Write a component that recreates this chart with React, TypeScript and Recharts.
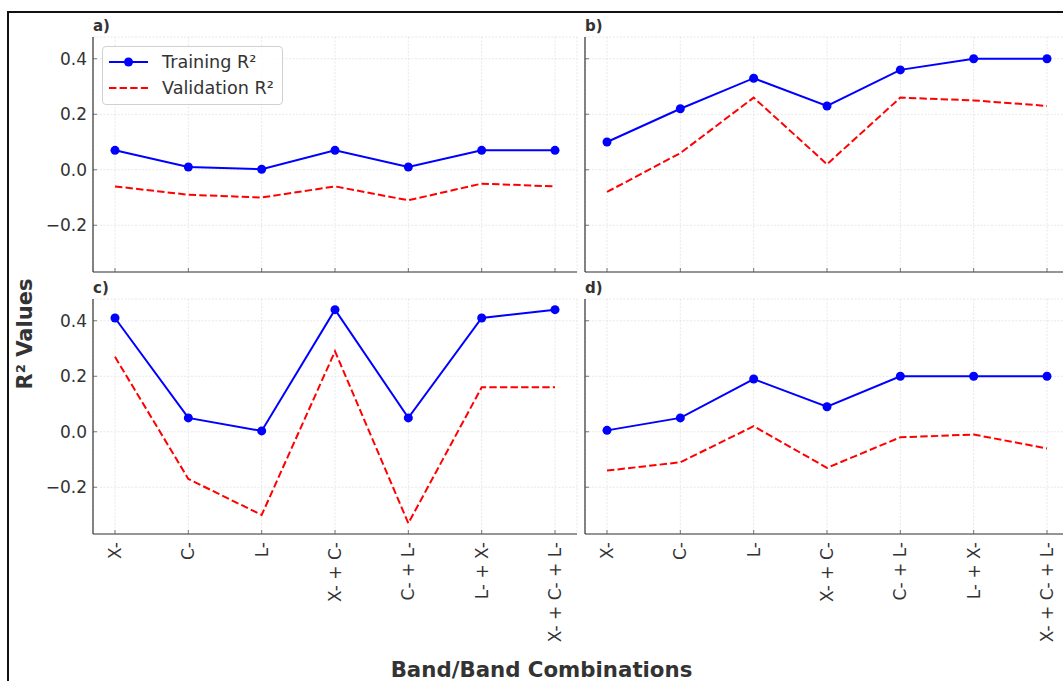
import { LineChart, Line, XAxis, YAxis, CartesianGrid, Legend } from "recharts";

const categories = ["X-", "C-", "L-", "X- + C-", "C- + L-", "L- + X-", "X- + C- + L-"];
const yTicks = [-0.2, 0, 0.2, 0.4];

const trainA = [0.07, 0.01, 0.002, 0.07, 0.01, 0.07, 0.07];
const validA = [-0.06, -0.09, -0.1, -0.06, -0.11, -0.05, -0.06];
const trainB = [0.1, 0.22, 0.33, 0.23, 0.36, 0.4, 0.4];
const validB = [-0.08, 0.06, 0.26, 0.02, 0.26, 0.25, 0.23];
const trainC = [0.41, 0.05, 0.003, 0.44, 0.05, 0.41, 0.44];
const validC = [0.27, -0.17, -0.3, 0.29, -0.33, 0.16, 0.16];
const trainD = [0.005, 0.05, 0.19, 0.09, 0.2, 0.2, 0.2];
const validD = [-0.14, -0.11, 0.02, -0.13, -0.02, -0.01, -0.06];

const FONT = "DejaVu Sans";
const TEXT = "#333333";
const PLOT_W = 484;
const PLOT_H = 235;
const Y_AXIS_W = 60;
const M_TOP = 5;

// shared y range like matplotlib sharey with 5% margins
const Y_DOMAIN: [number, number] = [-0.3685, 0.4785];

const makeRows = (train: number[], valid: number[]) =>
  categories.map((c, i) => ({ idx: i, name: c, train: train[i], valid: valid[i] }));

const XTick = ({ x, y, payload, showLabel }: any) => (
  <g>
    <line x1={x} y1={y} x2={x} y2={y - 4} stroke="#555" strokeWidth={0.8} />
    {showLabel && (
      <text
        x={x}
        y={y + 8}
        transform={`rotate(-90, ${x}, ${y + 8})`}
        textAnchor="end"
        dominantBaseline="central"
        fontSize={17}
        fontFamily={FONT}
        fill={TEXT}
      >
        {categories[payload.value]}
      </text>
    )}
  </g>
);

const YTick = ({ x, y, payload, showLabel }: any) => (
  <g>
    <line x1={x} y1={y} x2={x + 4} y2={y} stroke="#555" strokeWidth={0.8} />
    {showLabel && (
      <text
        x={x - 6}
        y={y}
        textAnchor="end"
        dominantBaseline="central"
        fontSize={17}
        fontFamily={FONT}
        fill={TEXT}
      >
        {payload.value === 0 ? "0.0" : (payload.value < 0 ? "\u2212" : "") + Math.abs(payload.value).toFixed(1)}
      </text>
    )}
  </g>
);

const LegendBox = () => (
  <div
    style={{
      width: 179,
      height: 57,
      border: "1px solid #d0d0d0",
      borderRadius: 4,
      background: "rgba(255,255,255,0.8)",
      position: "relative",
    }}
  >
    <svg width={179} height={57} style={{ position: "absolute", left: 0, top: 0 }}>
      <line x1={6} y1={15} x2={45} y2={15} stroke="#0000ff" strokeWidth={2} />
      <circle cx={25.5} cy={15} r={4.5} fill="#0000ff" />
      <line x1={6} y1={41} x2={45} y2={41} stroke="#ff0000" strokeWidth={2} strokeDasharray="7.4 3.2" />
      <text x={59} y={15} dominantBaseline="central" fontSize={17.6} fontFamily={FONT} fill={TEXT}>
        Training R²
      </text>
      <text x={59} y={41} dominantBaseline="central" fontSize={17.6} fontFamily={FONT} fill={TEXT}>
        Validation R²
      </text>
    </svg>
  </div>
);

type PanelProps = {
  plotLeft: number;
  plotTop: number;
  train: number[];
  valid: number[];
  showX: boolean;
  showY: boolean;
  showLegend?: boolean;
};

function Panel({ plotLeft, plotTop, train, valid, showX, showY, showLegend }: PanelProps) {
  const xH = showX ? 115 : 10;
  const left = plotLeft - Y_AXIS_W;
  const top = plotTop - M_TOP;
  return (
    <div style={{ position: "absolute", left, top }}>
      <LineChart
        width={Y_AXIS_W + PLOT_W + 2}
        height={M_TOP + PLOT_H + xH}
        data={makeRows(train, valid)}
        margin={{ top: M_TOP, right: 2, bottom: 0, left: 0 }}
      >
        <CartesianGrid stroke="#e2e2e2" strokeDasharray="2 1.5" strokeWidth={0.8} />
        <XAxis
          type="number"
          dataKey="idx"
          domain={[-0.3, 6.3]}
          ticks={[0, 1, 2, 3, 4, 5, 6]}
          allowDataOverflow
          height={xH}
          tickSize={0}
          tickMargin={0}
          tickLine={false}
          axisLine={{ stroke: "#333333", strokeWidth: 1.2 }}
          tick={<XTick showLabel={showX} />}
          interval={0}
        />
        <YAxis
          type="number"
          domain={Y_DOMAIN}
          ticks={yTicks}
          allowDataOverflow
          width={Y_AXIS_W}
          tickSize={0}
          tickMargin={0}
          tickLine={false}
          axisLine={{ stroke: "#333333", strokeWidth: 1.2 }}
          tick={<YTick showLabel={showY} />}
          interval={0}
        />
        {showLegend && (
          <Legend
            layout="horizontal"
            verticalAlign="middle"
            align="center"
            content={() => <LegendBox />}
            wrapperStyle={{ left: 102 - left, top: 45.5 - top, width: 181, height: 59 }}
          />
        )}
        <Line
          type="linear"
          dataKey="train"
          name="Training R²"
          stroke="#0000ff"
          strokeWidth={2}
          dot={{ r: 4.5, fill: "#0000ff", stroke: "#0000ff", strokeWidth: 0 }}
          activeDot={false}
          isAnimationActive={false}
        />
        <Line
          type="linear"
          dataKey="valid"
          name="Validation R²"
          stroke="#ff0000"
          strokeWidth={2}
          strokeDasharray="7.4 3.2"
          dot={false}
          activeDot={false}
          isAnimationActive={false}
        />
      </LineChart>
    </div>
  );
}

export default function App() {
  return (
    <div
      style={{
        position: "absolute",
        left: 0,
        top: 0,
        width: 1063,
        height: 681,
        overflow: "hidden",
        background: "#ffffff",
        fontFamily: FONT,
      }}
    >
      <div
        style={{
          position: "absolute",
          left: 7,
          top: 11,
          width: 1100,
          height: 720,
          border: "2px solid #111111",
        }}
      />
      <Panel plotLeft={93} plotTop={37} train={trainA} valid={validA} showX={false} showY showLegend />
      <Panel plotLeft={585} plotTop={37} train={trainB} valid={validB} showX={false} showY={false} />
      <Panel plotLeft={93} plotTop={299} train={trainC} valid={validC} showX showY />
      <Panel plotLeft={585} plotTop={299} train={trainD} valid={validD} showX showY={false} />
      <svg width={1063} height={681} style={{ position: "absolute", left: 0, top: 0, pointerEvents: "none" }}>
        <g fontFamily={FONT} fontWeight="bold" fill={TEXT}>
          <text x={93} y={31} fontSize={15}>a)</text>
          <text x={585} y={31} fontSize={15}>b)</text>
          <text x={93} y={293} fontSize={15}>c)</text>
          <text x={585} y={293} fontSize={15}>d)</text>
          <text x={32} y={334} fontSize={21} textAnchor="middle" transform="rotate(-90, 32, 334)">
            R² Values
          </text>
          <text x={541.5} y={677} fontSize={21.3} textAnchor="middle">
            Band/Band Combinations
          </text>
        </g>
      </svg>
    </div>
  );
}
